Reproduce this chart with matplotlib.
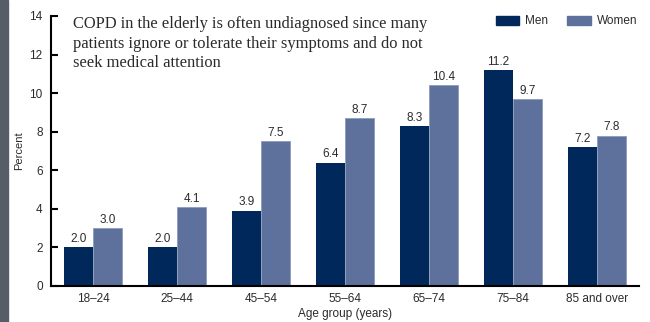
import numpy as np
import matplotlib
matplotlib.use('Agg')
import matplotlib.pyplot as plt
from matplotlib.patches import Patch

age_groups = ['18\u201324', '25\u201344', '45\u201354', '55\u201364', '65\u201374', '75\u201384', '85 and over']
men = [2.0, 2.0, 3.9, 6.4, 8.3, 11.2, 7.2]
women = [3.0, 4.1, 7.5, 8.7, 10.4, 9.7, 7.8]

men_color = '#00285a'
women_color = '#5e719c'
text_color = '#2b2b2b'

plt.rcParams['font.family'] = ['Liberation Sans', 'DejaVu Sans']

fig = plt.figure(figsize=(6.5, 3.22), dpi=100)
# dark strip down the left edge
fig.patches.append(plt.Rectangle((0, 0), 8 / 650, 1, transform=fig.transFigure,
                                 color='#565c68', zorder=0))
ax = fig.add_axes([51 / 650, 36 / 322, 588 / 650, 270 / 322])

x = np.arange(len(age_groups))
w = 0.35
b1 = ax.bar(x - w / 2, men, w, color=men_color)
b2 = ax.bar(x + w / 2, women, w, color=women_color, edgecolor='#8d9cbc', linewidth=0.6)

for bars, vals in [(b1, men), (b2, women)]:
    for bar, v in zip(bars, vals):
        ax.text(bar.get_x() + bar.get_width() / 2, v + 0.12, f'{v:.1f}',
                ha='center', va='bottom', fontsize=8.5, color=text_color)

ax.set_xlim(-0.5, len(age_groups) - 0.5)
ax.set_ylim(0, 14)
ax.set_yticks(range(0, 15, 2))
ax.set_xticks(x)
ax.set_xticklabels(age_groups)
ax.tick_params(axis='y', direction='in', length=5, width=1.5, labelsize=8.5,
               labelcolor=text_color, pad=6)
ax.tick_params(axis='x', length=0, labelsize=8.5, labelcolor=text_color, pad=5)
for s in ['top', 'right']:
    ax.spines[s].set_visible(False)
ax.spines['left'].set_linewidth(1.5)
ax.spines['bottom'].set_linewidth(1.5)

ax.set_ylabel('Percent', fontsize=8, color=text_color, labelpad=4)
ax.set_xlabel('Age group (years)', fontsize=8.5, color=text_color, labelpad=2)

ax.text(0.037, 1.0,
        'COPD in the elderly is often undiagnosed since many\n'
        'patients ignore or tolerate their symptoms and do not\n'
        'seek medical attention',
        transform=ax.transAxes, ha='left', va='top', fontsize=11.9,
        family=['Liberation Serif', 'DejaVu Serif'], color='#2a2a2a', linespacing=1.3)

handles = [Patch(color=men_color, label='Men'), Patch(color=women_color, label='Women')]
ax.legend(handles=handles, loc='upper right', bbox_to_anchor=(1.005, 1.02), ncol=2,
          frameon=False, fontsize=8.5, handlelength=2.0, handleheight=0.8,
          handletextpad=0.5, columnspacing=1.6, borderaxespad=0, labelcolor=text_color)

fig.savefig('out.png', dpi=100)
